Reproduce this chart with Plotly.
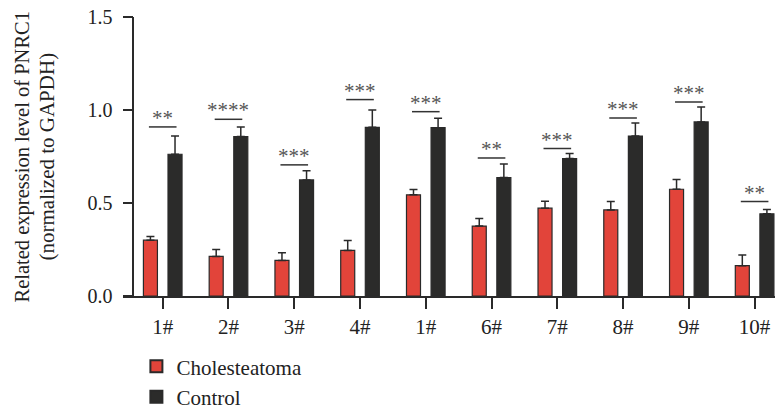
import plotly.graph_objects as go

# ---- data ----
tick_labels = ["1#", "2#", "3#", "4#", "1#", "6#", "7#", "8#", "9#", "10#"]
chol_mean = [0.300, 0.213, 0.191, 0.245, 0.544, 0.376, 0.472, 0.463, 0.574, 0.163]
chol_err = [0.020, 0.037, 0.041, 0.054, 0.029, 0.041, 0.038, 0.045, 0.052, 0.057]
ctrl_mean = [0.762, 0.857, 0.624, 0.907, 0.905, 0.637, 0.739, 0.860, 0.936, 0.442]
ctrl_err = [0.098, 0.052, 0.050, 0.093, 0.050, 0.073, 0.027, 0.070, 0.080, 0.023]
sig_level = [0.909, 0.950, 0.705, 1.056, 0.991, 0.742, 0.793, 0.957, 1.043, 0.508]
sig_text = ["**", "****", "***", "***", "***", "**", "***", "***", "***", "**"]
y_ticks = [0.0, 0.5, 1.0, 1.5]

FONT = "Liberation Serif"
RED = "#E2443A"
BLACK = "#2B2B2A"
LINE = "#2a2a2a"

xs = list(range(len(tick_labels)))

fig = go.Figure()
fig.add_trace(go.Bar(
    x=xs, y=chol_mean, name="Cholesteatoma",
    marker=dict(color=RED, line=dict(color=LINE, width=1.2)),
    error_y=dict(type="data", array=chol_err, arrayminus=[0] * len(xs),
                 symmetric=False, color=LINE, thickness=1.5, width=4),
))
fig.add_trace(go.Bar(
    x=xs, y=ctrl_mean, name="Control",
    marker=dict(color=BLACK, line=dict(color=LINE, width=1.2)),
    error_y=dict(type="data", array=ctrl_err, arrayminus=[0] * len(xs),
                 symmetric=False, color=LINE, thickness=1.5, width=4),
))

# significance brackets and stars
for i, (lv, st) in enumerate(zip(sig_level, sig_text)):
    fig.add_shape(type="line", xref="x", yref="y",
                  x0=i - 0.21, x1=i + 0.21, y0=lv, y1=lv,
                  line=dict(color="#333333", width=1.5))
    fig.add_annotation(x=i, y=lv, xref="x", yref="y", text=st,
                       showarrow=False, yanchor="bottom", yshift=-5,
                       font=dict(family=FONT, size=21, color="#555555"))

# y-axis title (two lines)
fig.add_annotation(xref="paper", yref="paper", x=22 / 775, y=0.5,
                   text="Related expression level of PNRC1", textangle=-90,
                   showarrow=False, xanchor="center", yanchor="middle",
                   font=dict(family=FONT, size=20.5, color="#222222"))
fig.add_annotation(xref="paper", yref="paper", x=46 / 775, y=0.5,
                   text="(normalized to GAPDH)", textangle=-90,
                   showarrow=False, xanchor="center", yanchor="middle",
                   font=dict(family=FONT, size=21, color="#222222"))

fig.update_layout(
    width=775, height=406,
    margin=dict(l=0, r=0, t=16.5, b=110, autoexpand=False),
    plot_bgcolor="white", paper_bgcolor="white",
    barmode="group", bargap=0.252, bargroupgap=0.43,
    font=dict(family=FONT, size=20, color="#222222"),
    showlegend=True,
    legend=dict(x=0.176, y=-0.18, xanchor="left", yanchor="top",
                orientation="v", font=dict(family=FONT, size=21, color="#222222"),
                bgcolor="rgba(0,0,0,0)", tracegroupgap=0, itemsizing="constant"),
    xaxis=dict(domain=[123 / 775, 1], range=[-0.604, 9.31],
               tickvals=xs, ticktext=tick_labels,
               showline=True, linecolor=LINE, linewidth=1.5,
               ticks="outside", ticklen=11, tickwidth=1.5, tickcolor=LINE,
               showgrid=False, zeroline=False,
               tickfont=dict(family=FONT, size=21, color="#222222")),
    yaxis=dict(anchor="free", position=133.3 / 775, range=[0, 1.5],
               tickvals=y_ticks, tickformat=".1f", ticklabelstandoff=6,
               showline=True, linecolor=LINE, linewidth=1.5,
               ticks="outside", ticklen=10, tickwidth=1.5, tickcolor=LINE,
               showgrid=False, zeroline=False,
               tickfont=dict(family=FONT, size=20, color="#222222")),
)

fig.write_html("out.html", config={"displayModeBar": False},
               post_script="document.body.style.margin='0';document.body.style.overflow='hidden';")
